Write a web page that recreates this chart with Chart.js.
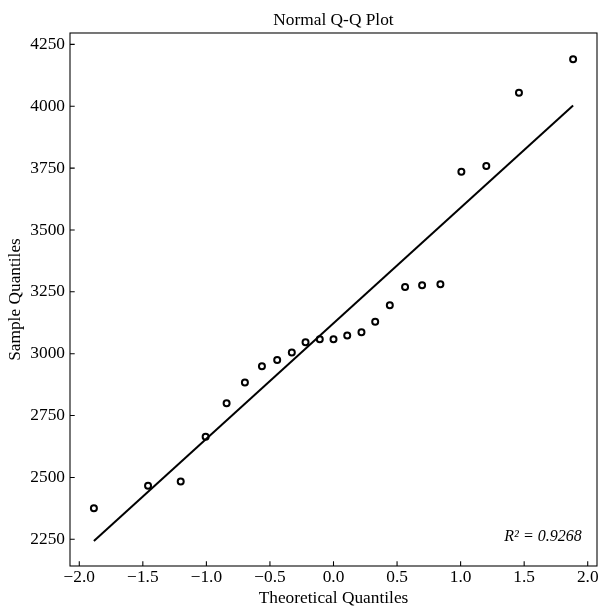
<!DOCTYPE html>
<html lang="en">
<head>
    <meta charset="UTF-8">
    <title>Normal Q-Q Plot</title>
    <script src="https://cdn.jsdelivr.net/npm/chart.js"></script>
    <style>
        body { margin: 0; background: #fff; }
        canvas { display: block; }
    </style>
</head>
<body>
    <canvas id="qq" width="599" height="607"></canvas>

    <script>
        // quantis teóricos (eixo x) e amostrais (eixo y)
        const theoretical = [-1.885, -1.459, -1.202, -1.006, -0.841, -0.697, -0.563, -0.443, -0.328, -0.220, -0.108, 0.000,
                             0.108, 0.220, 0.328, 0.443, 0.563, 0.697, 0.841, 1.006, 1.202, 1.459, 1.885];
        const sample = [2375, 2466, 2483, 2664, 2800, 2884, 2949, 2975, 3005, 3046, 3058, 3058,
                        3074, 3087, 3129, 3196, 3270, 3277, 3281, 3735, 3758, 4055, 4190];

        // reta de referência
        const fitX = [-1.885, 1.885];
        const fitY = [2243, 4003];

        const xTicks = [-2.0, -1.5, -1.0, -0.5, 0.0, 0.5, 1.0, 1.5, 2.0];
        const yTicks = [2250, 2500, 2750, 3000, 3250, 3500, 3750, 4000, 4250];
        const r2Label = 'R\u00b2 = 0.9268';

        Chart.defaults.font.family = "'Liberation Serif', 'Times New Roman', serif";
        Chart.defaults.font.size = 17.33;
        Chart.defaults.color = '#000';

        // moldura, ticks para dentro e texto do R²
        const moldura = {
            id: 'moldura',
            afterDatasetsDraw(chart) {
                const { ctx, chartArea: a, scales: { x, y } } = chart;
                ctx.save();
                ctx.strokeStyle = '#000';
                ctx.lineWidth = 1.07;
                ctx.strokeRect(a.left, a.top, a.right - a.left, a.bottom - a.top);
                ctx.beginPath();
                xTicks.forEach(v => {
                    const px = x.getPixelForValue(v);
                    ctx.moveTo(px, a.bottom);
                    ctx.lineTo(px, a.bottom - 4.7);
                });
                yTicks.forEach(v => {
                    const py = y.getPixelForValue(v);
                    ctx.moveTo(a.left, py);
                    ctx.lineTo(a.left + 4.7, py);
                });
                ctx.stroke();
                ctx.fillStyle = '#000';
                ctx.font = "italic 16px 'Liberation Serif', serif";
                ctx.textAlign = 'right';
                ctx.textBaseline = 'alphabetic';
                ctx.fillText(r2Label, a.right - 15.3, a.bottom - 25.3);
                ctx.restore();
            }
        };

        const fmt = v => v.toFixed(1).replace('-', '\u2212');

        new Chart(document.getElementById('qq'), {
            type: 'scatter',
            data: {
                datasets: [{
                    data: theoretical.map((t, i) => ({ x: t, y: sample[i] })),
                    pointStyle: 'circle',
                    pointRadius: 3,
                    pointBorderWidth: 2,
                    pointBorderColor: '#000',
                    pointBackgroundColor: 'rgba(0,0,0,0)',
                    showLine: false
                }, {
                    data: fitX.map((t, i) => ({ x: t, y: fitY[i] })),
                    showLine: true,
                    borderColor: '#000',
                    borderWidth: 2,
                    pointRadius: 0
                }]
            },
            options: {
                responsive: false,
                animation: false,
                layout: { autoPadding: false, padding: { top: 0, right: 2, bottom: 0, left: 0 } },
                plugins: {
                    legend: { display: false },
                    tooltip: { enabled: false },
                    title: {
                        display: true,
                        text: 'Normal Q-Q Plot',
                        fullSize: false,
                        color: '#000',
                        font: { size: 17.33, weight: 'normal' },
                        padding: { top: 10, bottom: 2.2 }
                    }
                },
                scales: {
                    x: {
                        type: 'linear',
                        min: -2.073,
                        max: 2.073,
                        grid: { display: false, drawTicks: false },
                        border: { display: false },
                        afterBuildTicks: s => { s.ticks = xTicks.map(v => ({ value: v })); },
                        afterFit: s => { s.height = 41; s.paddingLeft = 0; s.paddingRight = 0; },
                        ticks: { padding: 1, color: '#000', callback: v => fmt(v), maxRotation: 0 },
                        title: { display: true, text: 'Theoretical Quantiles', color: '#000', padding: { top: 0, bottom: -1.6 } }
                    },
                    y: {
                        type: 'linear',
                        min: 2142,
                        max: 4296,
                        grid: { display: false, drawTicks: false },
                        border: { display: false },
                        afterBuildTicks: s => { s.ticks = yTicks.map(v => ({ value: v })); },
                        afterFit: s => { s.width = 70; s.paddingTop = 0; s.paddingBottom = 0; },
                        ticks: { padding: 5, color: '#000', callback: v => String(v) },
                        title: { display: true, text: 'Sample Quantiles', color: '#000', padding: { top: 4.75, bottom: 0 } }
                    }
                }
            },
            plugins: [moldura]
        });
    </script>
</body>
</html>
